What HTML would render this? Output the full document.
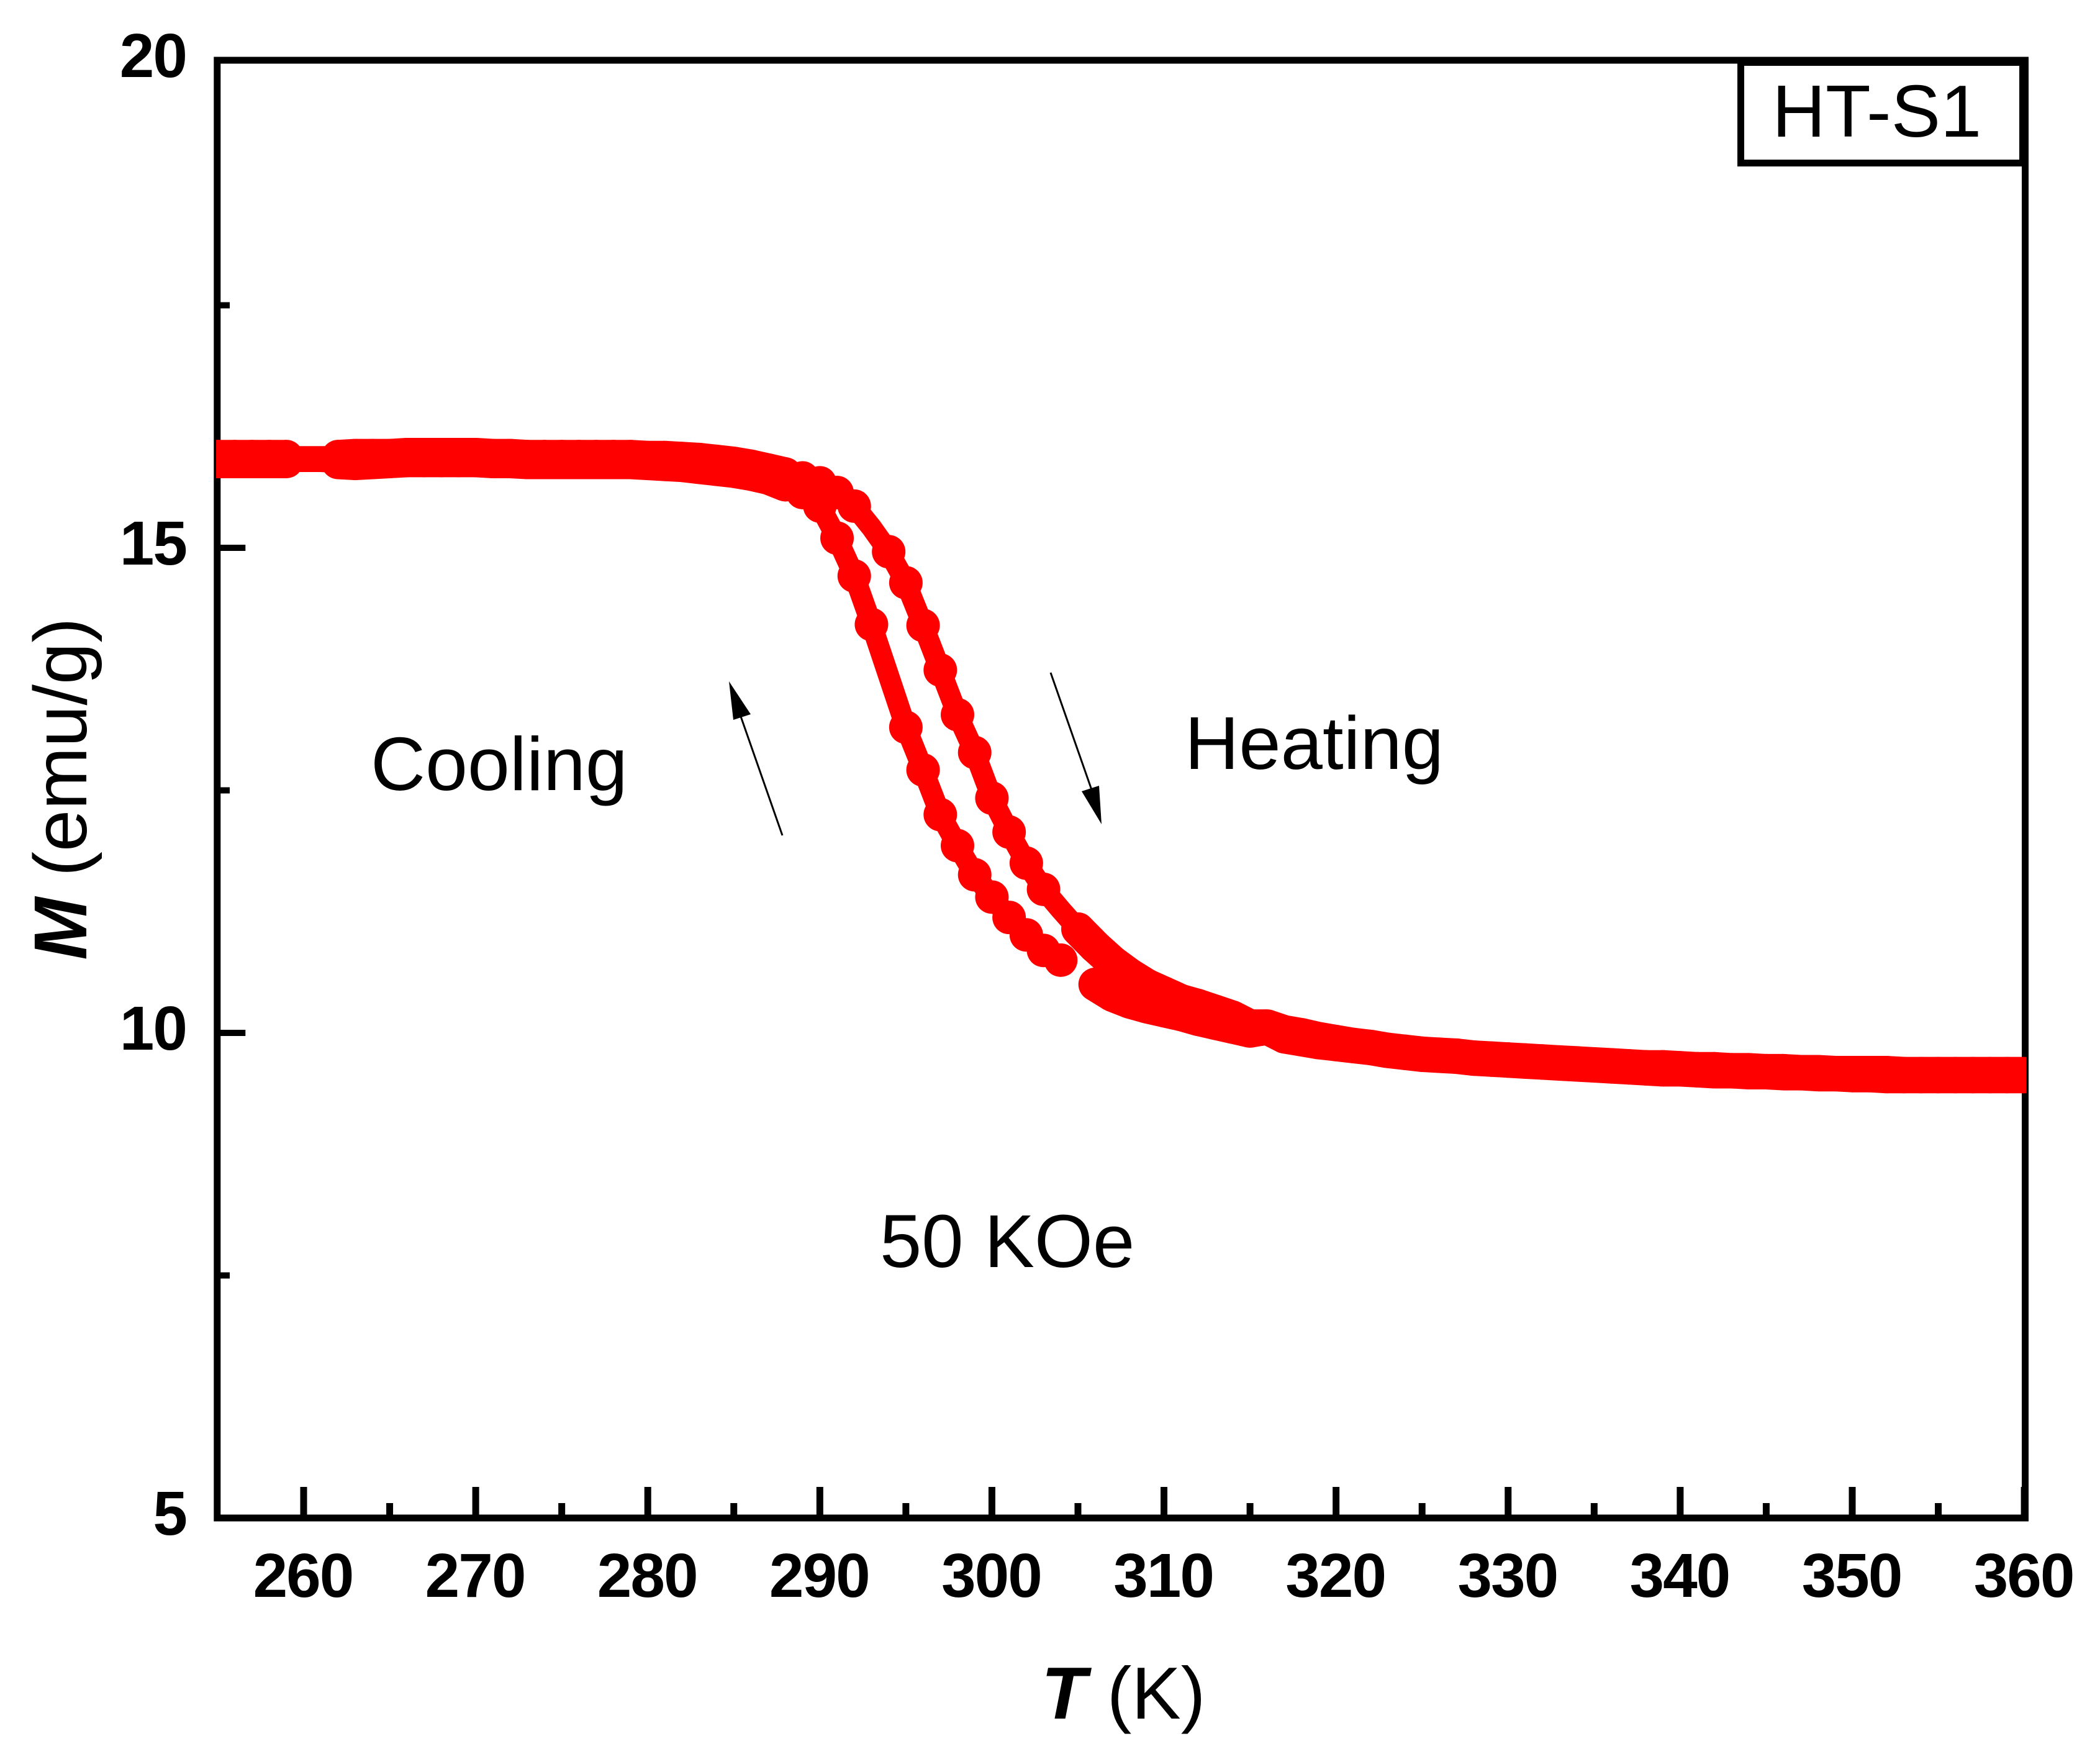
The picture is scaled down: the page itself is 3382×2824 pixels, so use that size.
<!DOCTYPE html>
<html lang="en">
<head>
<meta charset="utf-8">
<title>HT-S1 M vs T</title>
<style>
html,body{margin:0;padding:0;background:#fff;}
svg{display:block;}
text{font-family:"Liberation Sans",Arial,sans-serif;fill:#000;}
</style>
</head>
<body>
<svg id="chart" xmlns="http://www.w3.org/2000/svg" width="3382" height="2824" viewBox="0 0 3382 2824">
  <defs>
    <clipPath id="plot-clip"><rect x="348" y="97" width="2915.5" height="2347"></rect></clipPath>
  </defs>
  <rect x="0" y="0" width="3382" height="2824" fill="#fff"></rect>
  <g id="axes"></g>
  <g id="series" clip-path="url(#plot-clip)"></g>

  <g>
    <rect x="2798" y="92" width="469" height="176" fill="#000"></rect>
    <rect x="2809" y="106" width="443" height="151" fill="#fff"></rect>
    <text x="2854" y="220" font-size="119">HT-S1</text>
  </g>

  <text x="597" y="1272" font-size="122">Cooling</text>
  <text x="1908" y="1238" font-size="121">Heating</text>
  <text x="1417" y="2040" font-size="121">50 KOe</text>

  <g>
    <line x1="1260" y1="1345" x2="1190" y2="1145" stroke="#000" stroke-width="3"></line>
    <polygon points="1174,1097 1209,1150 1181,1159" fill="#000"></polygon>
  </g>
  <g>
    <line x1="1692" y1="1083" x2="1761" y2="1280" stroke="#000" stroke-width="3"></line>
    <polygon points="1774,1327 1742,1274 1770,1265" fill="#000"></polygon>
  </g>

  <text x="1677" y="2767" font-size="119"><tspan font-weight="bold" font-style="italic">T</tspan> (K)</text>
  <text transform="translate(139,1270) rotate(-90)" text-anchor="middle" font-size="121"><tspan font-weight="bold" font-style="italic">M</tspan> (emu/g)</text>
</svg>

<script>
const temperatureK = [
  255,256,257,258,259,260,261,262,263,264,
  265,266,267,268,269,270,271,272,273,274,
  275,276,277,278,279,280,281,282,283,284,
  285,286,287,288,289,290,291,292,293,294,
  295,296,297,298,299,300,301,302,303,304,
  305,306,307,308,309,310,311,312,313,314,
  315,316,317,318,319,320,321,322,323,324,
  325,326,327,328,329,330,331,332,333,334,
  335,336,337,338,339,340,341,342,343,344,
  345,346,347,348,349,350,351,352,353,354,
  355,356,357,358,359,360
];
const heatingM = [
  15.94,15.94,15.94,15.94,15.94,15.94,15.94,15.94,15.95,15.95,
  15.95,15.96,15.96,15.96,15.96,15.96,15.95,15.95,15.94,15.94,
  15.94,15.94,15.94,15.94,15.94,15.93,15.93,15.92,15.91,15.89,
  15.87,15.84,15.80,15.76,15.72,15.67,15.57,15.43,15.21,14.96,
  14.64,14.20,13.74,13.28,12.89,12.42,12.07,11.75,11.48,11.27,
  11.07,10.89,10.73,10.60,10.49,10.41,10.33,10.28,10.22,10.16,
  10.07,10.07,10.01,9.98,9.94,9.91,9.88,9.86,9.83,9.81,
  9.79,9.78,9.77,9.75,9.74,9.73,9.72,9.71,9.70,9.69,
  9.68,9.67,9.66,9.65,9.65,9.64,9.63,9.63,9.62,9.62,
  9.61,9.61,9.60,9.60,9.59,9.59,9.59,9.59,9.58,9.58,
  9.58,9.58,9.58,9.58,9.58,9.58
];
const coolingM = [
  15.89,15.89,15.89,15.89,15.89,15.89,15.89,15.88,15.87,15.88,
  15.89,15.90,15.90,15.90,15.90,15.90,15.89,15.89,15.88,15.88,
  15.88,15.88,15.88,15.88,15.88,15.87,15.86,15.85,15.83,15.81,
  15.79,15.76,15.72,15.65,15.57,15.43,15.10,14.71,14.21,13.68,
  13.15,12.71,12.25,11.93,11.63,11.40,11.19,11.01,10.85,10.75,
  null,10.50,10.39,10.32,10.27,10.23,10.19,10.14,10.10,10.06,
  10.02,10.05,9.96,9.93,9.90,9.88,9.86,9.84,9.81,9.79,
  9.77,9.76,9.75,9.73,9.72,9.71,9.70,9.69,9.68,9.67,
  9.66,9.65,9.64,9.63,9.62,9.62,9.61,9.60,9.60,9.59,
  9.59,9.58,9.58,9.57,9.57,9.56,9.56,9.55,9.55,9.55,
  9.55,9.55,9.55,9.55,9.55,9.55
];
const heatingLineOnlyT = [260,261,293,304];
const coolingLineOnlyT = [260,261,294];
const xMajorTicks = [260,270,280,290,300,310,320,330,340,350,360];
const xMinorTicks = [265,275,285,295,305,315,325,335,345,355];
const yMajorTicks = [5,10,15,20];
const yMinorTicks = [7.5,12.5,17.5];
const xDomain = [260,350];
const yDomain = [5,15];

const NS = 'http://www.w3.org/2000/svg';
const xRange = [489,2983];
const yRange = [2444,882];
const frameBox = {left:349.8, right:3261.5, top:97, bottom:2444};
const markerRadius = 27;
const lineWidth = 34;
const denseBelowT = 288;
const denseAboveT = 305;
const axes = document.getElementById('axes');
const seriesGroup = document.getElementById('series');

function xScale(v){return xRange[0] + (v - xDomain[0]) / (xDomain[1] - xDomain[0]) * (xRange[1] - xRange[0]);}
function yScale(v){return yRange[0] + (v - yDomain[0]) / (yDomain[1] - yDomain[0]) * (yRange[1] - yRange[0]);}

function svgEl(tag, attrs){
  const el = document.createElementNS(NS, tag);
  Object.keys(attrs).forEach(function(k){el.setAttribute(k, attrs[k]);});
  return el;
}

const frame = svgEl('rect', {x:frameBox.left, y:frameBox.top, width:frameBox.right-frameBox.left, height:frameBox.bottom-frameBox.top, fill:'none', stroke:'#000', 'stroke-width':11});


axes.appendChild(frame);

xMajorTicks.forEach(function(t){
  const tick = svgEl('line', {x1:xScale(t), x2:xScale(t), y1:frameBox.bottom, y2:frameBox.bottom-50, stroke:'#000', 'stroke-width':11});
  
  
  axes.appendChild(tick);
  const label = svgEl('text', {x:xScale(t)-1, y:2571, 'text-anchor':'middle', 'font-size':100, 'font-weight':'bold', 'letter-spacing':'-2'});
  label.textContent = String(t);
  
  
  axes.appendChild(label);
});
xMinorTicks.forEach(function(t){
  const tick = svgEl('line', {x1:xScale(t), x2:xScale(t), y1:frameBox.bottom, y2:frameBox.bottom-24, stroke:'#000', 'stroke-width':11});
  
  
  axes.appendChild(tick);
});
yMajorTicks.forEach(function(v){
  const tick = svgEl('line', {x1:frameBox.left, x2:395.3, y1:yScale(v), y2:yScale(v), stroke:'#000', 'stroke-width':10});
  const atTop = yScale(v) < frameBox.top + 10;
  if (!atTop) {
    
    
    axes.appendChild(tick);
  }
  const label = svgEl('text', {x:300, y:(atTop ? frameBox.top : yScale(v)) + 27, 'text-anchor':'end', 'font-size':100, 'font-weight':'bold', 'letter-spacing':'-2'});
  label.textContent = String(v);
  
  
  axes.appendChild(label);
});
yMinorTicks.forEach(function(v){
  const tick = svgEl('line', {x1:frameBox.left, x2:370, y1:yScale(v), y2:yScale(v), stroke:'#000', 'stroke-width':10});
  
  
  axes.appendChild(tick);
});

function drawSeries(values, lineOnly, seriesName){
  let d = '';
  let dense = '';
  let pen = false;
  values.forEach(function(m, i){
    if (m === null) { pen = false; return; }
    const t = temperatureK[i];
    d += (pen ? 'L' : 'M') + xScale(t).toFixed(1) + ' ' + yScale(m).toFixed(1);
    pen = true;
    const nextM = values[i + 1];
    const nextT = temperatureK[i + 1];
    if (nextM === null || nextM === undefined) return;
    const inDenseRange = nextT <= denseBelowT || t >= denseAboveT;
    if (inDenseRange && lineOnly.indexOf(t) === -1 && lineOnly.indexOf(nextT) === -1) {
      dense += 'M' + xScale(t).toFixed(1) + ' ' + yScale(m).toFixed(1) + 'L' + xScale(nextT).toFixed(1) + ' ' + yScale(nextM).toFixed(1);
    }
  });
  const line = svgEl('path', {d:d, fill:'none', stroke:'#ff0000', 'stroke-width':lineWidth, 'stroke-linejoin':'round', 'stroke-linecap':'round'});
  
  
  seriesGroup.appendChild(line);
  const band = svgEl('path', {d:dense, fill:'none', stroke:'#ff0000', 'stroke-width':markerRadius * 2});
  
  
  seriesGroup.appendChild(band);
  values.forEach(function(m, i){
    if (m === null || lineOnly.indexOf(temperatureK[i]) !== -1) return;
    const c = svgEl('circle', {cx:xScale(temperatureK[i]), cy:yScale(m), r:markerRadius, fill:'#ff0000'});
    
    
    seriesGroup.appendChild(c);
  });
}
drawSeries(coolingM, coolingLineOnlyT, 'cooling');
drawSeries(heatingM, heatingLineOnlyT, 'heating');
</script>
</body>
</html>
